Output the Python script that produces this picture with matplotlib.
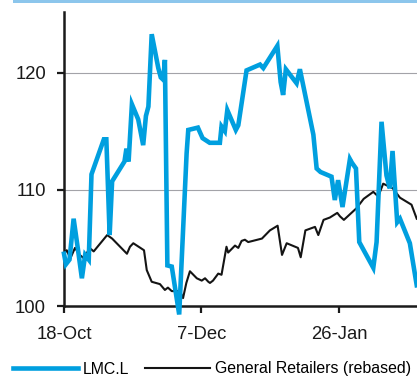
import matplotlib
matplotlib.use("Agg")
import matplotlib.pyplot as plt
from matplotlib.patches import Rectangle

plt.rcParams["font.family"] = ["Liberation Sans", "DejaVu Sans"]

# Days elapsed since 18-Oct and index levels
lmc_day = [0, 0.7, 2, 3.5, 5, 6.5, 7.7, 9, 10, 11.2, 14.5, 15.4, 16.6, 17.5, 22, 22.7,
           23.5, 24.7, 27, 28.8, 29.8, 30.7, 31.9, 34.3, 35.2, 36.1, 36.7, 37.6, 39.2,
           41.9, 44.6, 45.2, 48.7, 50.4, 53, 56.7, 57.3, 58.5, 59.4, 62.5, 63.4, 66.4,
           71.3, 72.5, 77.6, 78.8, 79.7, 80.7, 84.6, 85.8, 90.7, 91.9, 93.3, 97.3, 98.5,
           99.7, 101.3, 104, 104.7, 106.2, 107.4, 112.5, 113.7, 115.5, 117.3, 118.5,
           119.5, 121.2, 122.2, 125.8, 128.3]
lmc_val = [104.5, 103.6, 104.0, 107.5, 105.0, 102.4, 104.4, 104.0, 111.3, 112.1, 114.3,
           114.3, 106.1, 110.7, 112.4, 113.5, 112.4, 117.3, 116.0, 113.8, 116.3, 117.1,
           123.3, 120.4, 119.6, 119.4, 121.1, 103.5, 103.4, 99.3, 113.1, 115.1, 115.3,
           114.4, 114.0, 114.0, 115.4, 115.0, 116.8, 115.1, 115.5, 120.2, 120.7, 120.4,
           122.3, 119.2, 118.1, 120.3, 119.1, 120.3, 114.7, 111.8, 111.5, 111.1, 109.1,
           110.8, 108.5, 112.6, 112.3, 111.8, 105.5, 103.3, 105.5, 115.8, 111.2, 110.1,
           113.3, 107.2, 107.5, 105.4, 101.8]

ret_day = [0, 1, 2.3, 4, 5.7, 7.3, 9.3, 10.8, 15.7, 17.5, 22.9, 24, 25.2, 29.1, 30.1,
           31.9, 34.9, 36.7, 37.8, 39.2, 42.2, 43.3, 44.5, 45.8, 48.3, 50.1, 51.3, 52.5,
           53.1, 54.2, 56.1, 57.3, 59.1, 59.7, 62.2, 63.4, 64.6, 65.8, 67, 72, 74.9, 77.7,
           79.3, 81, 85.1, 86.1, 87.8, 91.3, 92.5, 94.4, 96.7, 99.4, 100.4, 101.8, 106.4,
           109, 112.5, 114.3, 116.1, 119.6, 122.2, 126.4, 128.3]
ret_val = [104.5, 104.8, 104.1, 105.0, 104.4, 104.1, 105.0, 104.7, 106.1, 105.8, 104.5,
           105.1, 105.4, 104.8, 103.1, 102.1, 101.9, 101.4, 101.6, 101.3, 101.3, 100.7,
           102.0, 103.0, 102.4, 102.2, 102.4, 102.1, 102.0, 102.2, 102.8, 102.7, 105.1,
           104.6, 105.2, 105.0, 105.6, 105.7, 105.5, 105.8, 106.5, 106.9, 104.4, 105.4,
           105.0, 104.2, 106.5, 106.8, 106.1, 107.4, 107.6, 108.0, 107.7, 107.4, 108.4,
           109.2, 109.8, 109.4, 110.5, 110.1, 109.3, 108.7, 107.5]

series_names = ["LMC.L", "General Retailers (rebased)"]
x_ticks = [0, 50, 100]
x_labels = ["18-Oct", "7-Dec", "26-Jan"]
y_ticks = [100, 110, 120]

W, H = 417, 378
fig = plt.figure(figsize=(W / 100, H / 100), dpi=100)
ax = fig.add_axes([64 / W, 1 - 306.3 / H, (W - 64) / W, (306.3 - 12) / H])

blue = "#009FDF"
ax.plot(lmc_day, lmc_val, color=blue, lw=3.3, solid_joinstyle="miter",
        label=series_names[0], clip_on=False, zorder=3)
ax.plot(ret_day, ret_val, color="#141414", lw=1.5, label=series_names[1], zorder=2.8)

ax.set_xlim(0, 128.4)
ax.set_ylim(100, 125.2)
ax.set_xticks(x_ticks)
ax.set_xticklabels(x_labels)
ax.set_yticks(y_ticks)

for g in y_ticks[1:]:
    ax.axhline(g, color="#A3A3A8", lw=0.8, zorder=1)

for s in ["top", "right"]:
    ax.spines[s].set_visible(False)
for s in ["left", "bottom"]:
    ax.spines[s].set_linewidth(1.8)
    ax.spines[s].set_color("#1a1a1a")

ax.tick_params(axis="both", direction="out", length=5, width=1.6, color="#1a1a1a",
               labelsize=13.3, labelcolor="#1a1a1a")
ax.tick_params(axis="x", pad=9)
ax.tick_params(axis="y", pad=8)

# thin banner along the top edge
fig.patches.append(Rectangle((13 / W, 1 - 3 / H), 1, 3 / H, transform=fig.transFigure,
                             color="#8CC6EC", lw=0, zorder=0))

fig.legend(loc="center left", bbox_to_anchor=(13 / W, 1 - 369 / H), ncol=2,
           frameon=False, fontsize=11.4, handlelength=4.1, handletextpad=0.3,
           columnspacing=1.0, borderpad=0, borderaxespad=0)

fig.savefig("out.png", dpi=100)
